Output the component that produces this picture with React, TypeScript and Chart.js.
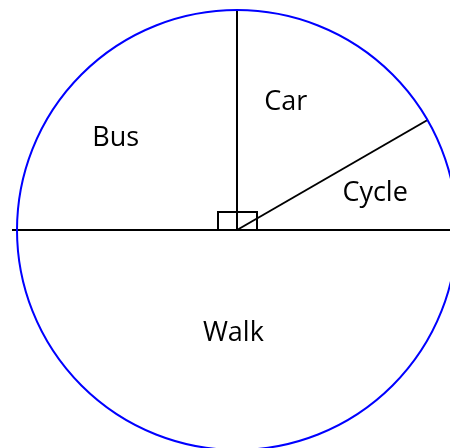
import React, { useEffect, useRef } from "react";
import { Chart, registerables } from "chart.js";

Chart.register(...registerables);

const categories = ["Car", "Cycle", "Walk", "Bus"];
const degrees = [60, 30, 180, 90];
// label placement: [angle from centre in degrees (0 = right, counter-clockwise), distance as fraction of radius]
const labelPlacement = [
  [69, 0.62],
  [15, 0.65],
  [-92, 0.47],
  [143, 0.69],
];

const diagramPlugin = {
  id: "diagram",
  afterDatasetsDraw(chart: any) {
    const meta = chart.getDatasetMeta(0);
    const arcs = meta.data;
    if (!arcs.length) return;
    const ctx = chart.ctx;
    const cx = arcs[0].x;
    const cy = arcs[0].y;
    const r = arcs[0].outerRadius;
    ctx.save();
    // radial separators
    ctx.strokeStyle = "#000";
    ctx.lineWidth = 2;
    ctx.lineCap = "butt";
    arcs.forEach((a: any) => {
      const ang = a.startAngle;
      const horiz = Math.abs(Math.sin(ang)) < 1e-6;
      const len = horiz ? r + 5 : r;
      ctx.beginPath();
      ctx.moveTo(cx, cy);
      ctx.lineTo(cx + Math.cos(ang) * len, cy + Math.sin(ang) * len);
      ctx.stroke();
    });
    // right-angle marker
    ctx.strokeRect(cx - 19, cy - 18, 39, 18);
    // outer circle
    ctx.strokeStyle = "#0000ff";
    ctx.lineWidth = 2;
    ctx.beginPath();
    ctx.arc(cx, cy, r, 0, Math.PI * 2);
    ctx.stroke();
    // labels
    ctx.fillStyle = "#000";
    ctx.font = "27px 'Comic Sans MS', 'Open Sans', sans-serif";
    ctx.textAlign = "center";
    ctx.textBaseline = "middle";
    categories.forEach((c, i) => {
      const [deg, f] = labelPlacement[i];
      const t = (deg * Math.PI) / 180;
      ctx.fillText(c, cx + Math.cos(t) * r * f, cy - Math.sin(t) * r * f);
    });
    ctx.restore();
  },
};

export default function App() {
  const ref = useRef<HTMLCanvasElement>(null);
  useEffect(() => {
    document.body.style.margin = "0";
    document.body.style.overflow = "hidden";
    const chart = new Chart(ref.current as HTMLCanvasElement, {
      type: "pie",
      data: {
        labels: categories,
        datasets: [
          {
            data: degrees,
            backgroundColor: "#ffffff",
            borderWidth: 0,
            radius: 220,
          } as any,
        ],
      },
      options: {
        animation: false,
        responsive: false,
        events: [],
        layout: { padding: 0 },
        plugins: {
          legend: { display: false },
          tooltip: { enabled: false },
        },
      },
      plugins: [diagramPlugin],
    });
    return () => chart.destroy();
  }, []);
  return (
    <div
      style={{
        position: "fixed",
        left: 0,
        top: 0,
        width: 450,
        height: 448,
        overflow: "hidden",
        background: "#fff",
      }}
    >
      <canvas ref={ref} width={474} height={460} style={{ display: "block" }} />
    </div>
  );
}
